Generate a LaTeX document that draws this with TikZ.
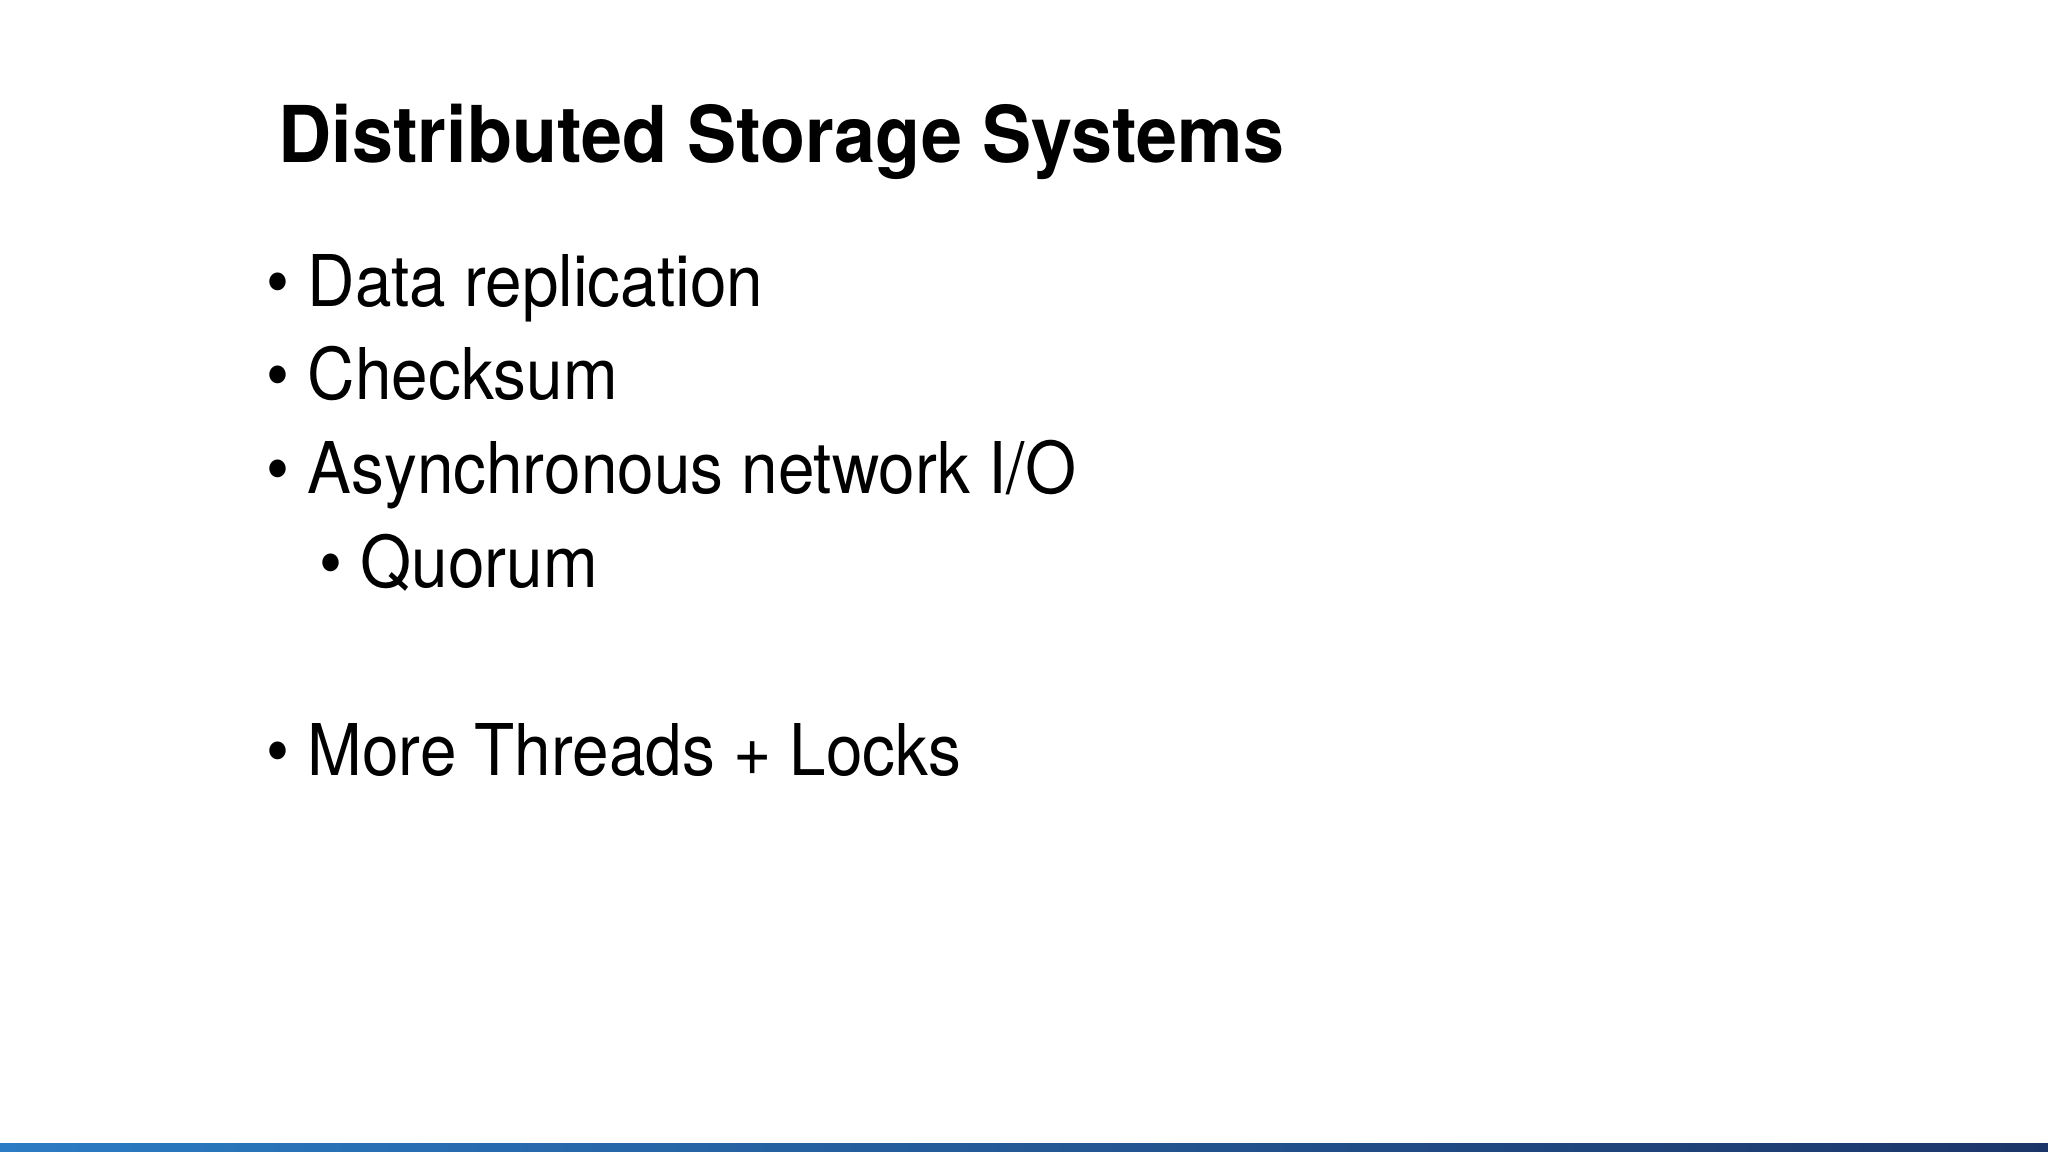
\documentclass[tikz,border=0pt]{standalone}
\usepackage{fontspec}
\setmainfont{TeX Gyre Heros}
\newfontfamily\bodyf[FakeStretch=0.92]{TeX Gyre Heros}
\newfontfamily\titlef[FakeStretch=0.94]{TeX Gyre Heros}
\definecolor{barL}{HTML}{2B7CC4}
\definecolor{barR}{HTML}{1C3568}
\begin{document}
\begin{tikzpicture}[
  txt/.style={anchor=base west, inner sep=0pt, font=\bodyf\fontsize{20.3pt}{24pt}\selectfont},
  bul/.style={anchor=base west, inner sep=0pt, font=\bodyf\fontsize{20.3pt}{24pt}\selectfont}]
\useasboundingbox (0,0) rectangle (20.48,11.52);
\fill[white] (0,0) rectangle (20.48,11.52);
\shade[left color=barL, right color=barR] (0,0) rectangle (20.48,0.08);
\node[anchor=base west, inner sep=0pt, font=\titlef\fontsize{22.3pt}{26pt}\selectfont\bfseries] (title) at (2.78,9.89) {Distributed Storage Systems};
\node[bul] (b1) at (2.66,8.45) {•}; \node[txt] (t1) at (3.07,8.45) {Data replication};
\node[bul] (b2) at (2.66,7.52) {•}; \node[txt] (t2) at (3.07,7.52) {Checksum};
\node[bul] (b3) at (2.66,6.58) {•}; \node[txt] (t3) at (3.07,6.58) {Asynchronous network I/O};
\node[bul] (b4) at (3.19,5.64) {•}; \node[txt] (t4) at (3.60,5.64) {Quorum};
\node[bul] (b5) at (2.66,3.76) {•}; \node[txt] (t5) at (3.07,3.76) {More Threads + Locks};
\end{tikzpicture}
\end{document}
